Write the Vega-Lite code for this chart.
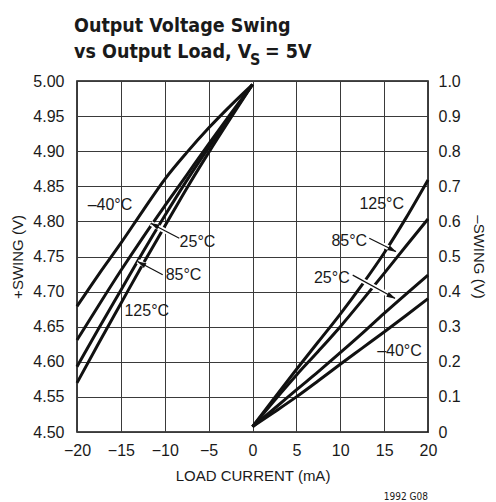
{
  "$schema": "https://vega.github.io/schema/vega-lite/v6.json",
  "width": 351,
  "height": 351,
  "padding": {"left": 10, "top": 15, "right": 4, "bottom": 0},
  "autosize": {"type": "pad"},
  "datasets": {
    "left": [
      {"t": "-40", "x": -20, "v": 4.679}, {"t": "-40", "x": -17.5, "v": 4.725}, {"t": "-40", "x": -15, "v": 4.769},
      {"t": "-40", "x": -12.5, "v": 4.815}, {"t": "-40", "x": -10, "v": 4.860}, {"t": "-40", "x": -7.5, "v": 4.898},
      {"t": "-40", "x": -5, "v": 4.933}, {"t": "-40", "x": -2.5, "v": 4.965}, {"t": "-40", "x": 0, "v": 4.995},
      {"t": "25", "x": -20, "v": 4.631}, {"t": "25", "x": -17.5, "v": 4.681}, {"t": "25", "x": -15, "v": 4.730},
      {"t": "25", "x": -12.5, "v": 4.777}, {"t": "25", "x": -10, "v": 4.822}, {"t": "25", "x": -7.5, "v": 4.866},
      {"t": "25", "x": -5, "v": 4.910}, {"t": "25", "x": -2.5, "v": 4.953}, {"t": "25", "x": 0, "v": 4.995},
      {"t": "85", "x": -20, "v": 4.593}, {"t": "85", "x": -17.5, "v": 4.648}, {"t": "85", "x": -15, "v": 4.702},
      {"t": "85", "x": -12.5, "v": 4.756}, {"t": "85", "x": -10, "v": 4.808}, {"t": "85", "x": -7.5, "v": 4.858},
      {"t": "85", "x": -5, "v": 4.905}, {"t": "85", "x": -2.5, "v": 4.950}, {"t": "85", "x": 0, "v": 4.995},
      {"t": "125", "x": -20, "v": 4.570}, {"t": "125", "x": -17.5, "v": 4.627}, {"t": "125", "x": -15, "v": 4.683},
      {"t": "125", "x": -12.5, "v": 4.739}, {"t": "125", "x": -10, "v": 4.793}, {"t": "125", "x": -7.5, "v": 4.847},
      {"t": "125", "x": -5, "v": 4.898}, {"t": "125", "x": -2.5, "v": 4.947}, {"t": "125", "x": 0, "v": 4.995}
    ],
    "right": [
      {"t": "125", "x": 0, "v": 0.015}, {"t": "125", "x": 2.5, "v": 0.097}, {"t": "125", "x": 5, "v": 0.178},
      {"t": "125", "x": 7.5, "v": 0.257}, {"t": "125", "x": 10, "v": 0.336}, {"t": "125", "x": 12.5, "v": 0.420},
      {"t": "125", "x": 15, "v": 0.510}, {"t": "125", "x": 17.5, "v": 0.610}, {"t": "125", "x": 20, "v": 0.718},
      {"t": "85", "x": 0, "v": 0.015}, {"t": "85", "x": 2.5, "v": 0.090}, {"t": "85", "x": 5, "v": 0.162},
      {"t": "85", "x": 7.5, "v": 0.230}, {"t": "85", "x": 10, "v": 0.300}, {"t": "85", "x": 12.5, "v": 0.375},
      {"t": "85", "x": 15, "v": 0.452}, {"t": "85", "x": 17.5, "v": 0.530}, {"t": "85", "x": 20, "v": 0.607},
      {"t": "25", "x": 0, "v": 0.015}, {"t": "25", "x": 2.5, "v": 0.067}, {"t": "25", "x": 5, "v": 0.120},
      {"t": "25", "x": 7.5, "v": 0.172}, {"t": "25", "x": 10, "v": 0.226}, {"t": "25", "x": 12.5, "v": 0.281},
      {"t": "25", "x": 15, "v": 0.338}, {"t": "25", "x": 17.5, "v": 0.393}, {"t": "25", "x": 20, "v": 0.447},
      {"t": "-40", "x": 0, "v": 0.015}, {"t": "-40", "x": 2.5, "v": 0.057}, {"t": "-40", "x": 5, "v": 0.100},
      {"t": "-40", "x": 7.5, "v": 0.146}, {"t": "-40", "x": 10, "v": 0.193}, {"t": "-40", "x": 12.5, "v": 0.239},
      {"t": "-40", "x": 15, "v": 0.285}, {"t": "-40", "x": 17.5, "v": 0.332}, {"t": "-40", "x": 20, "v": 0.380}
    ],
    "leftArrows": [
      {"x": -8.34, "v": 4.776, "x2": -11.57, "v2": 4.797},
      {"x": -10.23, "v": 4.724, "x2": -13.08, "v2": 4.743}
    ],
    "leftHeads": [
      {"x": -11.17, "v": 4.7947},
      {"x": -12.68, "v": 4.740}
    ],
    "rightArrows": [
      {"x": 13.31, "v": 0.552, "x2": 16.35, "v2": 0.514},
      {"x": 11.42, "v": 0.447, "x2": 16.24, "v2": 0.381}
    ],
    "rightHeads": [
      {"x": 15.94, "v": 0.519},
      {"x": 15.84, "v": 0.386}
    ],
    "leftLabels": [
      {"x": -16.24, "v": 4.823, "label": "–40°C"},
      {"x": -6.27, "v": 4.771, "label": "25°C"},
      {"x": -7.86, "v": 4.723, "label": "85°C"},
      {"x": -12.05, "v": 4.672, "label": "125°C"}
    ],
    "rightLabels": [
      {"x": 14.73, "v": 0.650, "label": "125°C"},
      {"x": 11.03, "v": 0.545, "label": "85°C"},
      {"x": 9.04, "v": 0.440, "label": "25°C"},
      {"x": 16.75, "v": 0.232, "label": "–40°C"}
    ],
    "titleLines": [
      {"x": -20.34, "v": 5.0702, "label": "Output Voltage Swing"},
      {"x": -20.34, "v": 5.0323, "label": "vs Output Load, V"}
    ],
    "sub": [{"x": -0.28, "v": 5.0228, "label": "S"}],
    "titleEnd": [{"x": 1.42, "v": 5.0323, "label": "= 5V"}],
    "code": [{"x": 20, "v": 4.403, "label": "1992 G08"}]
  },
  "layer": [
    {
      "encoding": {
        "x": {
          "field": "x", "type": "quantitative", "title": "LOAD CURRENT (mA)",
          "scale": {"domain": [-20, 20], "nice": false, "zero": false},
          "axis": {"values": [-20, -15, -10, -5, 0, 5, 10, 15, 20], "grid": true, "labelPadding": 10, "titlePadding": 10, "labelFlush": false, "labelOverlap": false}
        },
        "y": {
          "field": "v", "type": "quantitative", "title": "+SWING (V)",
          "scale": {"domain": [4.5, 5.0], "nice": false, "zero": false},
          "axis": {"values": [4.5, 4.55, 4.6, 4.65, 4.7, 4.75, 4.8, 4.85, 4.9, 4.95, 5.0], "format": ".2f", "grid": true, "labelPadding": 13, "titlePadding": 7, "labelOverlap": false}
        }
      },
      "layer": [
        {
          "data": {"name": "left"},
          "mark": {"type": "line", "color": "#111", "strokeWidth": 3, "interpolate": "monotone", "strokeCap": "butt"},
          "encoding": {"detail": {"field": "t"}}
        },
        {
          "data": {"name": "leftArrows"},
          "mark": {"type": "rule", "color": "white", "strokeWidth": 5},
          "encoding": {"x2": {"field": "x2"}, "y2": {"field": "v2"}}
        },
        {
          "data": {"name": "leftArrows"},
          "mark": {"type": "rule", "color": "#111", "strokeWidth": 1.2},
          "encoding": {"x2": {"field": "x2"}, "y2": {"field": "v2"}}
        },
        {
          "data": {"name": "leftHeads"},
          "mark": {"type": "point", "shape": "M0,-1L0.6,1L-0.6,1Z", "filled": true, "color": "#111", "opacity": 1, "size": 81, "angle": 298},
          "encoding": {}
        },
        {
          "data": {"name": "leftLabels"},
          "mark": {"type": "text", "font": "Liberation Sans", "fontSize": 16, "color": "#1a1a1a", "align": "center", "baseline": "middle"},
          "encoding": {"text": {"field": "label"}}
        },
        {
          "data": {"name": "titleLines"},
          "mark": {"type": "text", "font": "DejaVu Sans Condensed", "fontSize": 19.5, "fontWeight": "bold", "color": "#1a1a1a", "align": "left", "baseline": "alphabetic"},
          "encoding": {"text": {"field": "label"}}
        },
        {
          "data": {"name": "sub"},
          "mark": {"type": "text", "font": "DejaVu Sans Condensed", "fontSize": 16, "fontWeight": "bold", "color": "#1a1a1a", "align": "left", "baseline": "alphabetic"},
          "encoding": {"text": {"field": "label"}}
        },
        {
          "data": {"name": "titleEnd"},
          "mark": {"type": "text", "font": "DejaVu Sans Condensed", "fontSize": 19.5, "fontWeight": "bold", "color": "#1a1a1a", "align": "left", "baseline": "alphabetic"},
          "encoding": {"text": {"field": "label"}}
        },
        {
          "data": {"name": "code"},
          "mark": {"type": "text", "font": "DejaVu Sans Condensed", "fontSize": 10, "color": "#1a1a1a", "align": "right", "baseline": "alphabetic"},
          "encoding": {"text": {"field": "label"}}
        }
      ]
    },
    {
      "encoding": {
        "x": {
          "field": "x", "type": "quantitative", "title": "LOAD CURRENT (mA)",
          "scale": {"domain": [-20, 20], "nice": false, "zero": false},
          "axis": {"values": [-20, -15, -10, -5, 0, 5, 10, 15, 20], "grid": true, "labelPadding": 10, "titlePadding": 10, "labelFlush": false, "labelOverlap": false}
        },
        "y": {
          "field": "v", "type": "quantitative", "title": "–SWING (V)",
          "scale": {"domain": [0, 1], "nice": false, "zero": false},
          "axis": {"orient": "right", "values": [0, 0.1, 0.2, 0.3, 0.4, 0.5, 0.6, 0.7, 0.8, 0.9, 1.0], "labelExpr": "datum.value === 0 ? '0' : format(datum.value, '.1f')", "grid": false, "labelPadding": 10, "titlePadding": 10, "labelOverlap": false}
        }
      },
      "layer": [
        {
          "data": {"name": "right"},
          "mark": {"type": "line", "color": "#111", "strokeWidth": 3, "interpolate": "monotone", "strokeCap": "butt"},
          "encoding": {"detail": {"field": "t"}}
        },
        {
          "data": {"name": "rightArrows"},
          "mark": {"type": "rule", "color": "white", "strokeWidth": 5},
          "encoding": {"x2": {"field": "x2"}, "y2": {"field": "v2"}}
        },
        {
          "data": {"name": "rightArrows"},
          "mark": {"type": "rule", "color": "#111", "strokeWidth": 1.2},
          "encoding": {"x2": {"field": "x2"}, "y2": {"field": "v2"}}
        },
        {
          "data": {"name": "rightHeads"},
          "mark": {"type": "point", "shape": "M0,-1L0.6,1L-0.6,1Z", "filled": true, "color": "#111", "opacity": 1, "size": 81, "angle": 118},
          "encoding": {}
        },
        {
          "data": {"name": "rightLabels"},
          "mark": {"type": "text", "font": "Liberation Sans", "fontSize": 16, "color": "#1a1a1a", "align": "center", "baseline": "middle"},
          "encoding": {"text": {"field": "label"}}
        }
      ]
    }
  ],
  "resolve": {"scale": {"y": "independent"}},
  "config": {
    "view": {"stroke": "#111", "strokeWidth": 1.6},
    "axis": {
      "domain": false, "ticks": false,
      "gridColor": "#3a3a3a", "gridWidth": 1, "gridOpacity": 1,
      "labelFont": "Liberation Sans", "labelFontSize": 16, "labelColor": "#1a1a1a",
      "titleFont": "Liberation Sans", "titleFontSize": 15, "titleFontWeight": "normal", "titleColor": "#1a1a1a"
    }
  }
}
